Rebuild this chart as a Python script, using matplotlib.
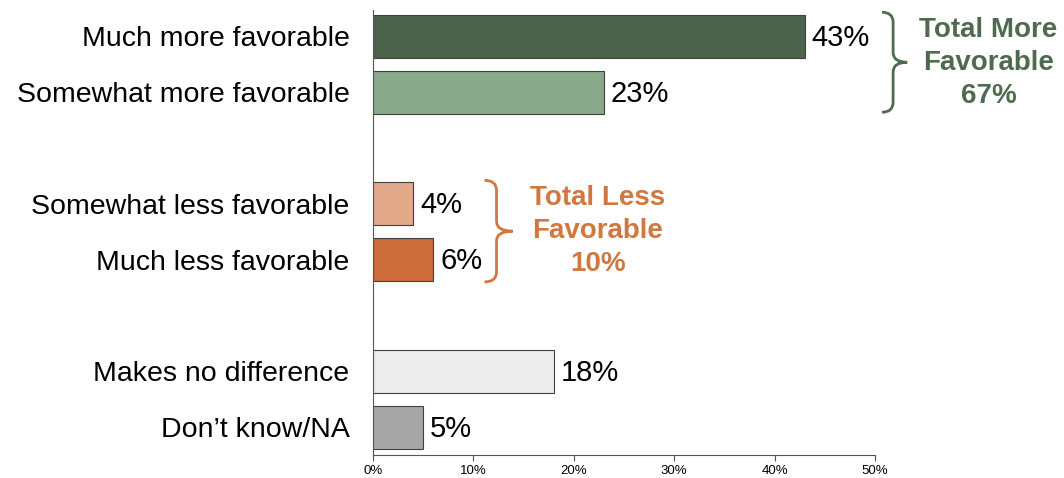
import matplotlib.pyplot as plt
from matplotlib.path import Path
from matplotlib.patches import PathPatch
from matplotlib.ticker import PercentFormatter

plt.rcParams['font.family'] = ['Liberation Sans', 'DejaVu Sans']

# datos del grafico
categorias = ['Much more favorable', 'Somewhat more favorable',
              'Somewhat less favorable', 'Much less favorable',
              'Makes no difference', 'Don\u2019t know/NA']
valores = [43, 23, 4, 6, 18, 5]
posiciones = [0, 1, 3, 4, 6, 7]
colores = ['#4a634a', '#88a98a', '#e3a98b', '#cc6d3a', '#ececec', '#a6a6a6']
total_mas = 67
total_menos = 10

fig = plt.figure(figsize=(10.64, 4.78), dpi=100)
ax = fig.add_axes([0.3506, 0.048, 0.4718, 0.931])

ax.barh(posiciones, valores, height=0.77, color=colores, edgecolor='#404040', linewidth=0.8)
for p, v in zip(posiciones, valores):
    ax.annotate(f'{v}%', (v, p), xytext=(5, -1), textcoords='offset points',
                va='center', ha='left', fontsize=21)

ax.set_yticks(posiciones)
ax.set_yticklabels(categorias, fontsize=20.5)
ax.tick_params(axis='y', length=0, pad=17)
ax.set_xlim(0, 50)
ax.set_ylim(7.5, -0.47)
ax.set_xticks(range(0, 51, 10))
ax.xaxis.set_major_formatter(PercentFormatter(decimals=0))
ax.tick_params(axis='x', labelsize=9.5, length=4, color='#555555')
for s in ['top', 'right']:
    ax.spines[s].set_visible(False)
ax.spines['left'].set_color('#555555')
ax.spines['bottom'].set_color('#555555')


def llave(x0, x1, x2, ytop, ybot, color):
    # dibuja una llave "}" en coordenadas de datos
    ymid = (ytop + ybot) / 2
    r = 0.18
    verts = [(x0, ytop), (x1, ytop), (x1, ytop + r),
             (x1, ymid - r), (x1, ymid), (x2, ymid),
             (x1, ymid), (x1, ymid + r),
             (x1, ybot - r), (x1, ybot), (x0, ybot)]
    codes = [Path.MOVETO, Path.CURVE3, Path.CURVE3,
             Path.LINETO, Path.CURVE3, Path.CURVE3,
             Path.CURVE3, Path.CURVE3,
             Path.LINETO, Path.CURVE3, Path.CURVE3]
    ax.add_patch(PathPatch(Path(verts, codes), fill=False, edgecolor=color,
                           linewidth=2, clip_on=False))


verde = '#4f6b4f'
naranja = '#d0783f'
llave(50.7, 51.8, 53.2, -0.43, 1.36, verde)
llave(11.1, 12.3, 13.9, 2.58, 4.40, naranja)

ax.text(61.3, 0.47, f'Total More\nFavorable\n{total_mas}%', color=verde, fontsize=20,
        fontweight='bold', ha='center', va='center', linespacing=1.35, clip_on=False)
ax.text(22.4, 3.49, f'Total Less\nFavorable\n{total_menos}%', color=naranja, fontsize=20,
        fontweight='bold', ha='center', va='center', linespacing=1.35)

fig.savefig('out.png', dpi=100)
